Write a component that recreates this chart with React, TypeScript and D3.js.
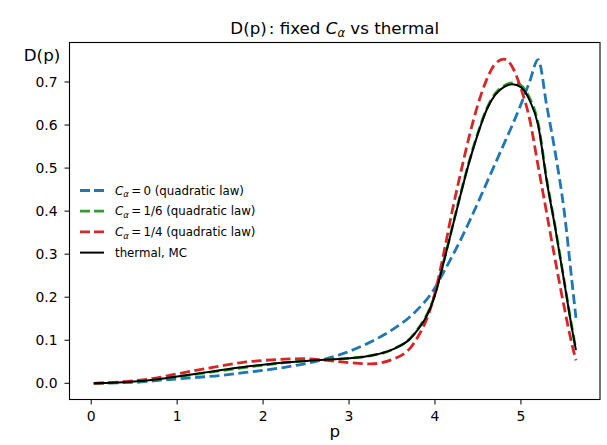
import React from "react";
import * as d3 from "d3";

// momentum grid shared by all curves
const pGrid = [
  0.03, 0.25, 0.5, 0.75, 1.0, 1.25, 1.5, 1.75, 2.0, 2.25, 2.5, 2.75, 3.0, 3.25, 3.5, 3.75,
  4.0, 4.1, 4.2, 4.3, 4.4, 4.5, 4.6, 4.7, 4.8, 4.9, 5.0, 5.1, 5.2, 5.3, 5.4, 5.5, 5.6, 5.64,
];

const dAlpha0 = [
  0.0, 0.001, 0.002, 0.006, 0.01, 0.014, 0.018, 0.024, 0.03, 0.037, 0.046, 0.058, 0.074, 0.096, 0.124, 0.162,
  0.222, 0.258, 0.295, 0.334, 0.376, 0.42, 0.465, 0.51, 0.555, 0.6, 0.648, 0.7, 0.752, 0.645, 0.535, 0.405, 0.225, 0.152,
];

const dAlpha16 = [
  0.0, 0.001, 0.004, 0.009, 0.015, 0.022, 0.029, 0.036, 0.042, 0.048, 0.052, 0.055, 0.058, 0.064, 0.078, 0.113,
  0.207, 0.282, 0.362, 0.442, 0.517, 0.582, 0.637, 0.673, 0.691, 0.698, 0.692, 0.663, 0.604, 0.474, 0.362, 0.242, 0.122, 0.079,
];

const dAlpha14 = [
  0.0, 0.002, 0.006, 0.012, 0.022, 0.031, 0.04, 0.048, 0.053, 0.056, 0.057, 0.053, 0.048, 0.045, 0.055, 0.092,
  0.21, 0.3, 0.4, 0.49, 0.575, 0.648, 0.705, 0.742, 0.753, 0.735, 0.685, 0.615, 0.505, 0.395, 0.285, 0.18, 0.085, 0.053,
];

const dThermal = [
  0.0, 0.001, 0.004, 0.009, 0.016, 0.023, 0.03, 0.037, 0.043, 0.048, 0.052, 0.055, 0.058, 0.064, 0.078, 0.112,
  0.205, 0.28, 0.36, 0.44, 0.515, 0.58, 0.635, 0.67, 0.688, 0.695, 0.688, 0.658, 0.6, 0.47, 0.36, 0.24, 0.12, 0.077,
];

const xTicks = [0, 1, 2, 3, 4, 5];
const yTicks = [0.0, 0.1, 0.2, 0.3, 0.4, 0.5, 0.6, 0.7];

const series = [
  { name: "0", values: dAlpha0, color: "#1f77b4", dashed: true },
  { name: "1/6", values: dAlpha16, color: "#2ca02c", dashed: true },
  { name: "1/4", values: dAlpha14, color: "#d62728", dashed: true },
  { name: "thermal", values: dThermal, color: "#000000", dashed: false },
];

const W = 607;
const H = 445;
const plot = { left: 69.5, right: 600, top: 42.5, bottom: 399.5 };
const font = "DejaVu Sans, sans-serif";

const App: React.FC = () => {
  const x = d3.scaleLinear().domain([-0.2525, 5.92]).range([plot.left, plot.right]);
  const y = d3.scaleLinear().domain([-0.0377, 0.7918]).range([plot.bottom, plot.top]);

  const line = d3
    .line<number>()
    .x((_, i) => x(pGrid[i]))
    .y((d) => y(d))
    .curve(d3.curveMonotoneX);

  const plotW = plot.right - plot.left;
  const plotH = plot.bottom - plot.top;

  return (
    <svg
      width={W}
      height={H}
      style={{ position: "absolute", left: 0, top: 0, background: "#fff" }}
      fontFamily={font}
    >
      <defs>
        <clipPath id="plot">
          <rect x={plot.left} y={plot.top} width={plotW} height={plotH} />
        </clipPath>
      </defs>

      {/* title */}
      <text x={plot.left + plotW / 2} y={34} fontSize={16.7} textAnchor="middle" fill="#000">
        <tspan>D(p)</tspan>
        <tspan dx={2}>:</tspan>
        <tspan>{" fixed "}</tspan>
        <tspan fontStyle="italic">C</tspan>
        <tspan fontStyle="italic" fontSize={11.5} dy={3}>α</tspan>
        <tspan dy={-3}>{" vs thermal"}</tspan>
      </text>

      {/* curves */}
      <g clipPath="url(#plot)">
        {series.map((s) => (
          <path
            key={s.name}
            d={line(s.values) || ""}
            fill="none"
            stroke={s.color}
            strokeWidth={s.dashed ? 2.8 : 2}
            strokeDasharray={s.dashed ? "10,4.5" : undefined}
            strokeLinejoin="round"
          />
        ))}
      </g>

      {/* frame */}
      <rect x={plot.left} y={plot.top} width={plotW} height={plotH} fill="none" stroke="#000" strokeWidth={1.1} />

      {/* x axis */}
      {xTicks.map((t) => (
        <g key={`x${t}`}>
          <line x1={x(t)} x2={x(t)} y1={plot.bottom} y2={plot.bottom + 5} stroke="#000" />
          <text x={x(t)} y={plot.bottom + 21.5} fontSize={13.9} textAnchor="middle" fill="#000">
            {t}
          </text>
        </g>
      ))}
      <text x={plot.left + plotW / 2} y={437} fontSize={16.7} textAnchor="middle" fill="#000">
        p
      </text>

      {/* y axis */}
      {yTicks.map((t) => (
        <g key={`y${t}`}>
          <line x1={plot.left - 5} x2={plot.left} y1={y(t)} y2={y(t)} stroke="#000" />
          <text x={plot.left - 12} y={y(t) + 5} fontSize={13.9} textAnchor="end" fill="#000">
            {d3.format(".1f")(t)}
          </text>
        </g>
      ))}
      <text x={42} y={61} fontSize={16.7} textAnchor="middle" fill="#000">
        D(p)
      </text>

      {/* legend */}
      <g transform="translate(80,190.5)">
        {series.map((s, i) => (
          <g key={`lg${s.name}`} transform={`translate(0,${i * 20.7})`}>
            <line
              x1={0}
              x2={24}
              y1={0}
              y2={0}
              stroke={s.color}
              strokeWidth={s.dashed ? 2.8 : 2}
              strokeDasharray={s.dashed ? "10,4" : undefined}
            />
            <text x={35} y={4.2} fontSize={11.8} fill="#000">
              {s.dashed ? (
                <>
                  <tspan fontStyle="italic">C</tspan>
                  <tspan fontStyle="italic" fontSize={8.5} dy={2.5}>α</tspan>
                  <tspan dy={-2.5}>{`\u2009=\u2009${s.name} (quadratic law)`}</tspan>
                </>
              ) : (
                "thermal, MC"
              )}
            </text>
          </g>
        ))}
      </g>
    </svg>
  );
};

export default App;
